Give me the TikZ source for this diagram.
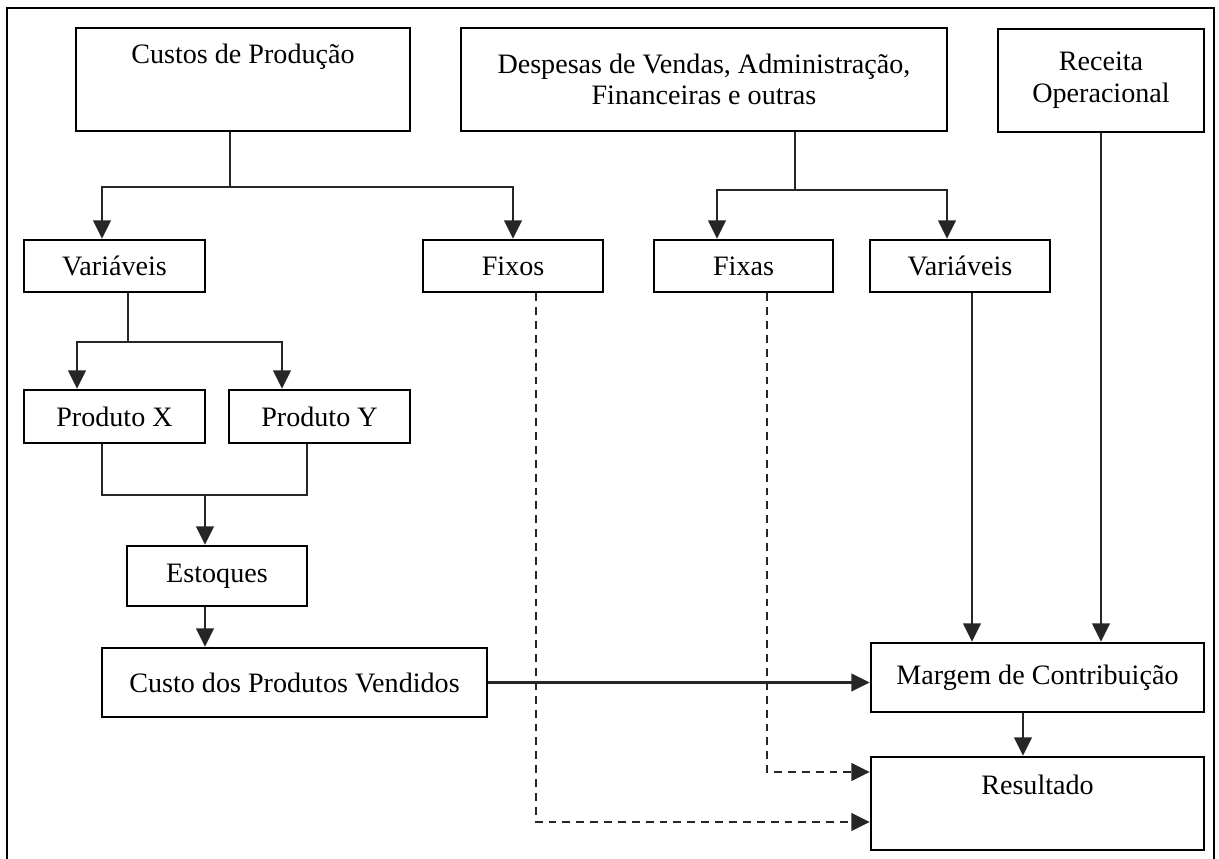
\documentclass[tikz,border=0pt]{standalone}
\usepackage{fontspec}
\setmainfont{Liberation Serif}
\usepackage{tikz}
\usetikzlibrary{arrows.meta}
\usetikzlibrary{positioning,calc}

\begin{document}
\begin{tikzpicture}[x=0.02cm,y=-0.02cm,
	every node/.style={font=\fontsize{16pt}{18pt}\selectfont},
	box/.style={draw,line width=1.4pt,inner sep=0pt,align=center},
	conn/.style={line width=1.3pt,black!85},
	arr/.style={conn,-{Triangle[length=10.5pt,width=10pt]}},
	darr/.style={arr,dashed,dash pattern=on 4.5pt off 3.4pt}]
	\useasboundingbox (0,0) rectangle (1219,858);
	% moldura
	\draw[line width=1.6pt] (7,880) -- (7,8) -- (1214,8) -- (1214,880);
	% caixas de cima
	\node[box,minimum width=6.68cm,minimum height=2.06cm] (cp) at (243,79.5) {};
	\node (cplab) at (243,57) {Custos de Produção};
	\node[box,minimum width=9.72cm,minimum height=2.06cm] (dv) at (704,79.5) {Despesas de Vendas, Administração,\\Financeiras e outras};
	\node[box,line width=1.6pt,minimum width=4.12cm,minimum height=2.06cm] (ro) at (1101,80.5) {Receita\\Operacional};
	% segunda linha
	\node[box,minimum width=3.62cm,minimum height=1.04cm] (vp) at (114.5,266) {Variáveis};
	\node[box,minimum width=3.6cm,minimum height=1.04cm] (fixos) at (513,266) {Fixos};
	\node[box,minimum width=3.58cm,minimum height=1.04cm] (fixas) at (743.5,266) {Fixas};
	\node[box,minimum width=3.6cm,minimum height=1.04cm] (vd) at (960,266) {Variáveis};
	% produtos
	\node[box,minimum width=3.62cm,minimum height=1.06cm] (px) at (114.5,416.5) {Produto X};
	\node[box,minimum width=3.62cm,minimum height=1.06cm] (py) at (319.5,416.5) {Produto Y};
	\node[box,minimum width=3.6cm,minimum height=1.2cm] (est) at (217,576) {Estoques};
	\node[box,minimum width=7.7cm,minimum height=1.38cm] (cpv) at (294.5,682.5) {Custo dos Produtos Vendidos};
	% resultado
	\node[box,minimum width=6.66cm,minimum height=1.38cm] (mc) at (1037.5,677.5) {Margem de Contribuição};
	\node[box,minimum width=6.66cm,minimum height=1.86cm] (res) at (1037.5,803.5) {};
	\node (reslab) at (1037.5,785) {Resultado};
	% ligacoes
	\coordinate (cpj) at (230,187);
	\draw[conn] (cp.south -| cpj) -- (cpj);
	\draw[arr] (cpj) -| (vp.north -| 102,0);
	\draw[arr] (cpj) -| (fixos.north);
	\coordinate (dvj) at (795,190);
	\draw[conn] (dv.south -| dvj) -- (dvj);
	\draw[arr] (dvj) -| (fixas.north -| 717,0);
	\draw[arr] (dvj) -| (vd.north -| 947,0);
	\coordinate (vpj) at (128,342);
	\draw[conn] (vp.south -| vpj) -- (vpj);
	\draw[arr] (vpj) -| (px.north -| 77,0);
	\draw[arr] (vpj) -| (py.north -| 282,0);
	\coordinate (pj) at (205,495);
	\draw[conn] (px.south -| 102,0) |- (pj) -| (py.south -| 307,0);
	\draw[arr] (pj) -- (est.north -| pj);
	\draw[arr] (est.south -| pj) -- (cpv.north -| pj);
	\draw[arr] (cpv.east) -- (cpv.east -| mc.west);
	\draw[arr] (vd.south -| 972,0) -- (mc.north -| 972,0);
	\draw[arr] (ro.south -| 1101,0) -- (mc.north -| 1101,0);
	\draw[arr] (mc.south -| 1023,0) -- (res.north -| 1023,0);
	\draw[darr] (fixas.south -| 767,0) |- (res.west |- 0,772);
	\draw[darr] (fixos.south -| 536,0) |- (res.west |- 0,822);
\end{tikzpicture}
\end{document}
